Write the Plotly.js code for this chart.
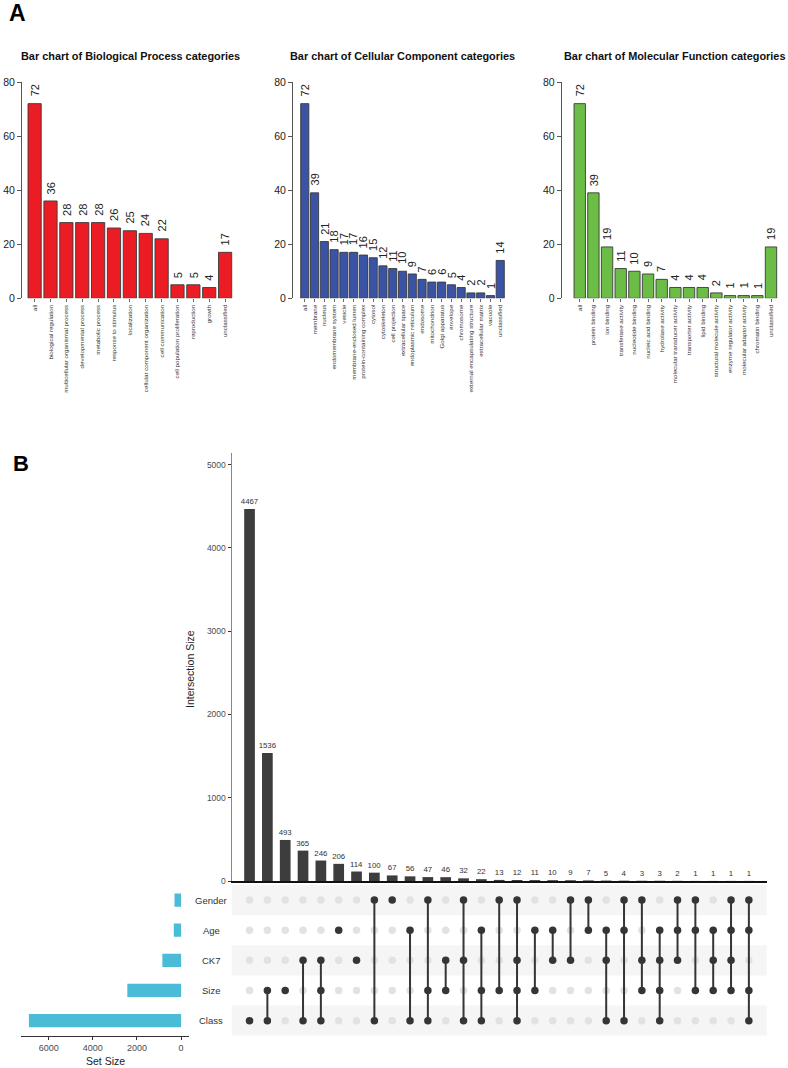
<!DOCTYPE html>
<html><head><meta charset="utf-8">
<script src="https://cdn.plot.ly/plotly-3.0.1.min.js"></script>
<style>html,body{margin:0;padding:0;background:#fff}#chart{width:788px;height:1068px}</style>
</head><body><div id="chart"></div>
<script>
// ---------- DATA ----------
const bpCategories = ["all","biological regulation","multicellular organismal process","developmental process","metabolic process","response to stimulus","localization","cellular component organization","cell communication","cell population proliferation","reproduction","growth","unclassified"];
const bpValues = [72,36,28,28,28,26,25,24,22,5,5,4,17];

const ccCategories = ["all","membrane","nucleus","endomembrane system","vesicle","membrane-enclosed lumen","protein-containing complex","cytosol","cytoskeleton","cell projection","extracellular space","endoplasmic reticulum","endosome","mitochondrion","Golgi apparatus","envelope","chromosome","external encapsulating structure","extracellular matrix","vacuole","unclassified"];
const ccValues = [72,39,21,18,17,17,16,15,12,11,10,9,7,6,6,5,4,2,2,1,14];

const mfCategories = ["all","protein binding","ion binding","transferase activity","nucleotide binding","nucleic acid binding","hydrolase activity","molecular transducer activity","transporter activity","lipid binding","structural molecule activity","enzyme regulator activity","molecular adaptor activity","chromatin binding","unclassified"];
const mfValues = [72,39,19,11,10,9,7,4,4,4,2,1,1,1,19];

const panelTitles = ["Bar chart of Biological Process categories","Bar chart of Cellular Component categories","Bar chart of Molecular Function categories"];
const panelATicks = [0,20,40,60,80];

// UpSet: sets listed bottom -> top
const setNames = ["Class","Size","CK7","Age","Gender"];
const setSizes = [6896,2436,849,330,299];
const setSizeTicks = [0,2000,4000,6000];
const intersectionTicks = [0,1000,2000,3000,4000,5000];
const intersectionSizes = [4467,1536,493,365,246,206,114,100,67,56,47,46,32,22,13,12,11,10,9,7,5,4,3,3,2,1,1,1,1];
const intersectionSets = [
 ["Class"],["Size","Class"],["Size"],["CK7","Class"],["CK7","Size","Class"],["Age"],["CK7"],
 ["Gender","Class"],["Gender"],["Age","Class"],["Gender","Size","Class"],["CK7","Size"],
 ["Gender","CK7","Class"],["Age","Size","Class"],["Gender","Size"],["Gender","CK7","Size","Class"],
 ["Age","Size"],["Age","CK7"],["Gender","CK7"],["Gender","Age"],["Age","CK7","Class"],
 ["Gender","Age","Class"],["Gender","CK7","Size"],["Age","CK7","Size","Class"],["Gender","Age","CK7"],
 ["Gender","Age","Size"],["Age","CK7","Size"],["Gender","Age","CK7","Size"],["Gender","Age","Size","Class"]
];

// ---------- HELPERS ----------
const W = 788, H = 1068;
const px = x => x / W;
const py = y => 1 - y / H;
const FONT = "Liberation Sans, Arial, Helvetica, sans-serif";

const traces = [];
const annotations = [];
const shapes = [];

// ---------- PANEL A ----------
const panels = [
  {cats: bpCategories, vals: bpValues, color: "#ec1c24", ax: "", dom: [22, 237.8], range: [-0.795, 12.8], tx: 130},
  {cats: ccCategories, vals: ccValues, color: "#3a53a4", ax: "2", dom: [293, 506.1], range: [-1.205, 20.6], tx: 403},
  {cats: mfCategories, vals: mfValues, color: "#6cbd45", ax: "3", dom: [561.7, 779.2], range: [-1.32, 14.6], tx: 675}
];
const layoutAxes = {};
panels.forEach((p, i) => {
  traces.push({
    type: "bar", x: p.cats, y: p.vals,
    xaxis: "x" + p.ax, yaxis: "y" + p.ax,
    marker: {color: p.color, line: {color: "#3a3a3a", width: 0.9}},
    hoverinfo: "x+y"
  });
  p.cats.forEach((c, k) => {
    annotations.push({
      text: String(p.vals[k]), xref: "x" + p.ax, yref: "y" + p.ax, x: c, y: p.vals[k],
      textangle: -90, xanchor: "center", yanchor: "bottom", yshift: 5, showarrow: false,
      font: {family: FONT, size: 11, color: "#222"}
    });
  });
  layoutAxes["xaxis" + p.ax] = {
    domain: [px(p.dom[0]), px(p.dom[1])], anchor: "y" + p.ax,
    type: "category", categoryorder: "array", categoryarray: p.cats,
    range: p.range, showgrid: false, zeroline: false, showline: false,
    tickmode: "array", tickvals: p.cats, ticktext: p.cats,
    ticks: "outside", ticklen: 3, tickwidth: 0.8, tickcolor: "#444",
    tickangle: -90, tickfont: {family: FONT, size: 6.2, color: "#333"}
  };
  layoutAxes["yaxis" + p.ax] = {
    domain: [py(298.3), py(82)], anchor: "x" + p.ax,
    range: [0, 80], showgrid: false, zeroline: false,
    showline: true, linecolor: "#555", linewidth: 1,
    tickmode: "array", tickvals: panelATicks,
    ticks: "outside", ticklen: 4, tickwidth: 1, tickcolor: "#555",
    tickfont: {family: FONT, size: 10.5, color: "#222"}
  };
  annotations.push({
    text: "<b>" + panelTitles[i] + "</b>", xref: "paper", yref: "paper",
    x: px(p.tx), y: py(56), xanchor: "center", yanchor: "middle", showarrow: false,
    font: {family: FONT, size: 10.9, color: "#111"}
  });
});

// ---------- PANEL B ----------
const rowOf = name => setNames.indexOf(name);
const colIdx = intersectionSizes.map((_, i) => i);

// intersection bars
traces.push({
  type: "bar", x: colIdx, y: intersectionSizes, xaxis: "x4", yaxis: "y4", width: 0.6,
  marker: {color: "#3d3d3d"},
  text: intersectionSizes.map(String), textposition: "outside", constraintext: "none", cliponaxis: false,
  textfont: {family: FONT, size: 7.8, color: "#333"}, hoverinfo: "y"
});

// matrix dots
const lightX = [], lightY = [], darkX = [], darkY = [], lineX = [], lineY = [];
intersectionSets.forEach((sets, c) => {
  setNames.forEach((s, r) => {
    if (sets.includes(s)) { darkX.push(c); darkY.push(r); }
    else { lightX.push(c); lightY.push(r); }
  });
  if (sets.length > 1) {
    const rows = sets.map(rowOf);
    lineX.push(c, c, null);
    lineY.push(Math.min(...rows), Math.max(...rows), null);
  }
});
traces.push({type: "scatter", mode: "markers", x: lightX, y: lightY, xaxis: "x5", yaxis: "y5",
  marker: {size: 7.5, color: "#e2e2e2"}, hoverinfo: "skip", cliponaxis: false});
traces.push({type: "scatter", mode: "lines", x: lineX, y: lineY, xaxis: "x5", yaxis: "y5",
  line: {color: "#353535", width: 2}, hoverinfo: "skip", connectgaps: false});
traces.push({type: "scatter", mode: "markers", x: darkX, y: darkY, xaxis: "x5", yaxis: "y5",
  marker: {size: 7.5, color: "#353535"}, hoverinfo: "skip", cliponaxis: false});

// set size bars
traces.push({
  type: "bar", orientation: "h", y: setNames.map((_, i) => i), x: setSizes,
  xaxis: "x6", yaxis: "y6", width: 0.44, marker: {color: "#4bbcd8"}, hoverinfo: "x"
});

// stripes
setNames.forEach((s, r) => {
  if (r % 2 === 0) {
    shapes.push({type: "rect", xref: "paper", yref: "y5", x0: px(231.7), x1: px(766.7),
      y0: r - 0.5, y1: r + 0.5, fillcolor: "#f5f5f5", line: {width: 0}, layer: "below"});
  }
  annotations.push({text: s, xref: "paper", yref: "y5", x: px(211), y: r,
    xanchor: "center", yanchor: "middle", showarrow: false,
    font: {family: FONT, size: 9.5, color: "#333"}});
});

Object.assign(layoutAxes, {
  xaxis4: {domain: [px(231.7), px(766.7)], anchor: "y4", range: [-1, 29],
    showgrid: false, zeroline: false, showticklabels: false, ticks: "",
    showline: true, linecolor: "#111", linewidth: 1.6},
  yaxis4: {domain: [py(881), py(453)], anchor: "x4", range: [0, 5140],
    showgrid: false, zeroline: false, showline: true, linecolor: "#888", linewidth: 1.2,
    tickmode: "array", tickvals: intersectionTicks, ticks: "outside", ticklen: 3, tickcolor: "#333",
    tickfont: {family: FONT, size: 8.5, color: "#4d4d4d"}},
  xaxis5: {domain: [px(231.7), px(766.7)], anchor: "y5", range: [-1, 29], visible: false},
  yaxis5: {domain: [py(1035.7), py(885)], anchor: "x5", range: [-0.5, 4.5], visible: false},
  xaxis6: {domain: [px(21.3), px(188.7)], anchor: "y6", range: [7241, -345],
    showgrid: false, zeroline: false, showline: true, linecolor: "#333", linewidth: 1,
    tickmode: "array", tickvals: setSizeTicks, ticks: "outside", ticklen: 3, tickcolor: "#333",
    tickfont: {family: FONT, size: 9, color: "#4d4d4d"}},
  yaxis6: {domain: [py(1035.7), py(885)], anchor: "x6", range: [-0.5, 4.5], visible: false}
});

annotations.push(
  {text: "Intersection Size", xref: "paper", yref: "paper", x: px(190), y: py(669),
   textangle: -90, xanchor: "center", yanchor: "middle", showarrow: false,
   font: {family: FONT, size: 10.5, color: "#222"}},
  {text: "Set Size", xref: "paper", yref: "paper", x: px(105), y: py(1061),
   xanchor: "center", yanchor: "middle", showarrow: false,
   font: {family: FONT, size: 10.5, color: "#222"}},
  {text: "<b>A</b>", xref: "paper", yref: "paper", x: px(7), y: py(13),
   xanchor: "left", yanchor: "middle", showarrow: false,
   font: {family: FONT, size: 23, color: "#000"}},
  {text: "<b>B</b>", xref: "paper", yref: "paper", x: px(11), y: py(463),
   xanchor: "left", yanchor: "middle", showarrow: false,
   font: {family: FONT, size: 22, color: "#000"}}
);

const layout = Object.assign({
  width: W, height: H, margin: {l: 0, r: 0, t: 0, b: 0},
  paper_bgcolor: "#fff", plot_bgcolor: "rgba(0,0,0,0)",
  showlegend: false, bargap: 0.1667,
  font: {family: FONT, color: "#222"},
  annotations: annotations, shapes: shapes
}, layoutAxes);

Plotly.newPlot("chart", traces, layout, {displayModeBar: false, staticPlot: true});
</script>
</body></html>
